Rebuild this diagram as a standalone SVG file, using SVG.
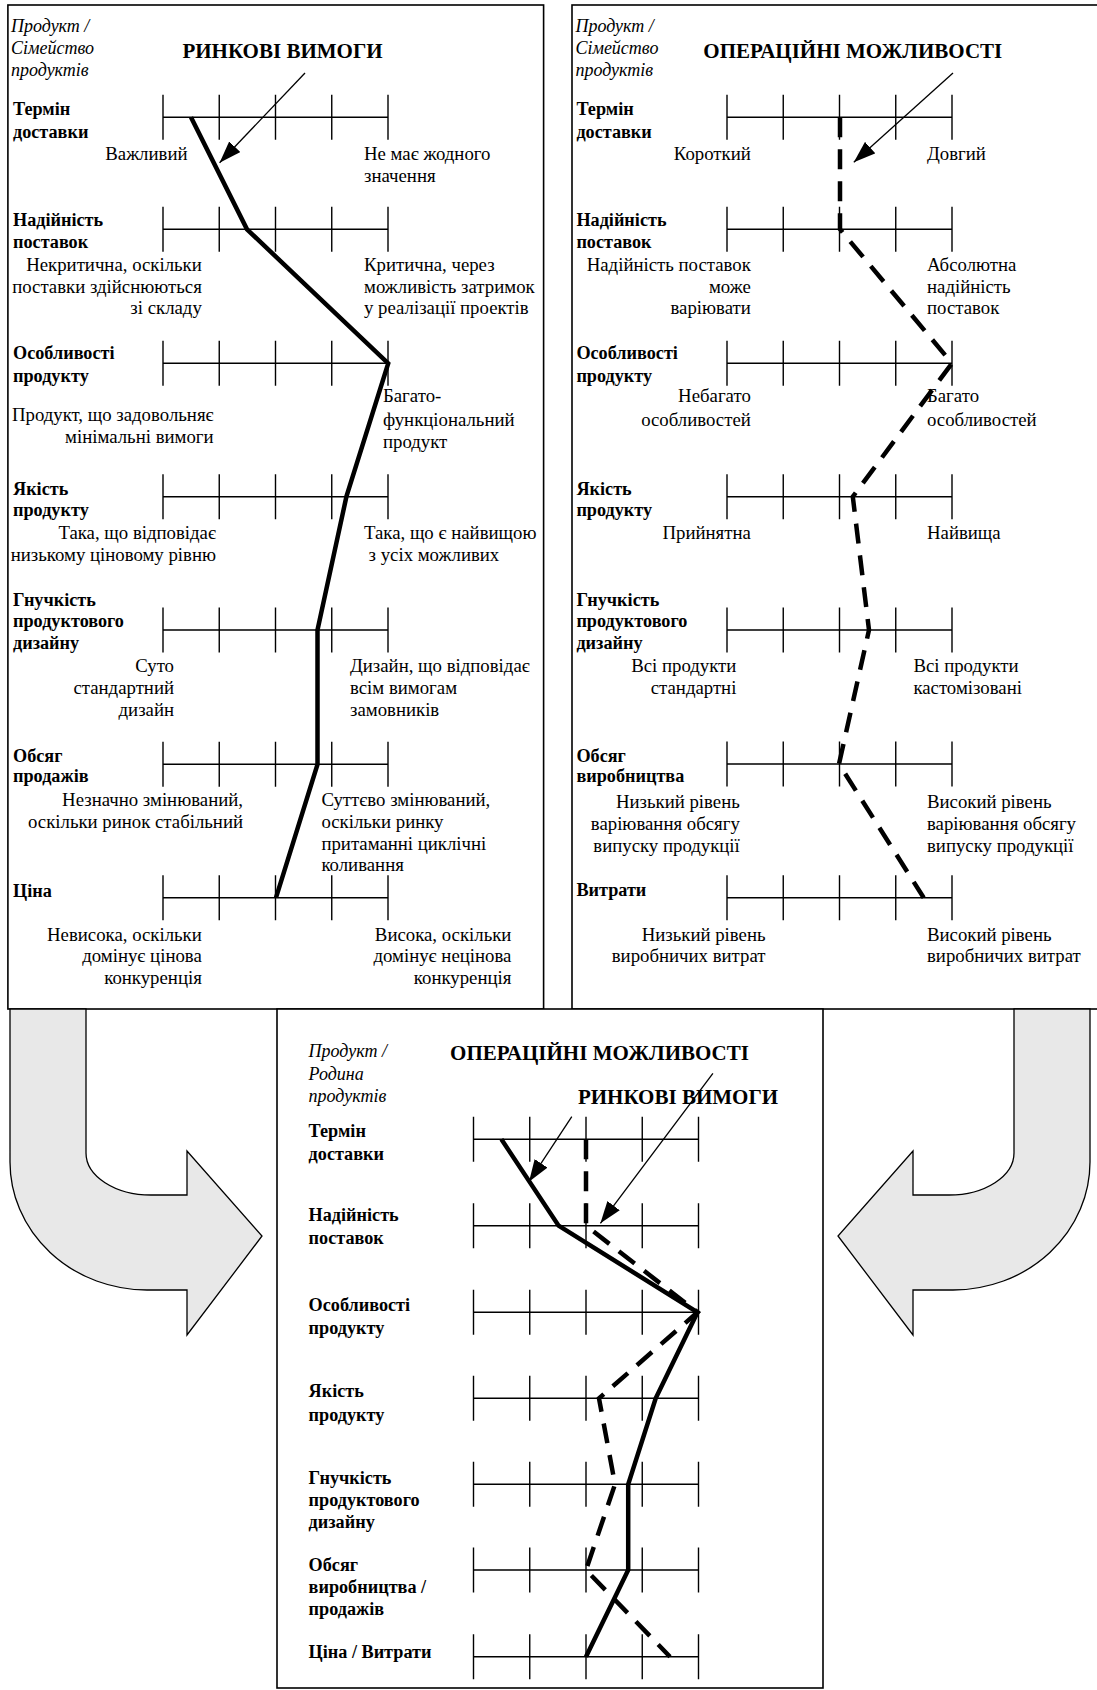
<svg xmlns="http://www.w3.org/2000/svg" xmlns:xlink="http://www.w3.org/1999/xlink" width="1097" height="1690" viewBox="0 0 1097 1690">
<style>
.t{font-family:"Liberation Serif","Times New Roman",serif;font-size:18.8px;fill:#000}
.b{font-weight:bold;font-size:18.2px}
.i{font-style:italic;font-size:18px}
.h{font-weight:bold;font-size:21px;text-anchor:middle}
.e{text-anchor:end}
.ax{stroke:#000;stroke-width:1.4;fill:none}
.sol{stroke:#000;stroke-width:4.5;fill:none;stroke-linejoin:miter}
.dsh{stroke:#000;stroke-width:4.5;fill:none;stroke-dasharray:20 12}
.thin{stroke:#000;stroke-width:1.3;fill:none}
.panel{fill:#fff;stroke:#000;stroke-width:1.6}
.big{fill:#e8e8e8;stroke:#000;stroke-width:1.3}
</style>
<defs>
<g id="axis"><path class="ax" d="M0,0H225M0,-22.5V22.5M56.25,-22.5V22.5M112.5,-22.5V22.5M168.75,-22.5V22.5M225,-22.5V22.5"/></g>
<marker id="ah" markerUnits="userSpaceOnUse" markerWidth="22" markerHeight="16" viewBox="0 0 20 14" refX="20" refY="7" orient="auto"><path d="M0,0L20,7L0,14Z" fill="#000"/></marker>
</defs>

<g id="panel-market">
<rect class="panel" x="7.9" y="5" width="535.7" height="1004"/>
<text class="t i" x="11" y="32">Продукт /</text>
<text class="t i" x="11" y="54">Сімейство</text>
<text class="t i" x="11" y="76">продуктів</text>
<text class="t h" x="282.5" y="58">РИНКОВІ ВИМОГИ</text>
<g id="m-row1"><use xlink:href="#axis" x="163" y="117.3"/>
<text class="t b" x="13" y="114.5">Термін</text><text class="t b" x="13" y="137.5">доставки</text>
<text class="t e" x="187.5" y="159.5">Важливий</text>
<text class="t" x="364" y="159.5">Не має жодного</text><text class="t" x="364" y="181.5">значення</text></g>
<g id="m-row2"><use xlink:href="#axis" x="163" y="229.3"/>
<text class="t b" x="13" y="225.5">Надійність</text><text class="t b" x="13" y="248">поставок</text>
<text class="t e" x="201.8" y="271">Некритична, оскільки</text><text class="t e" x="201.8" y="292.5">поставки здійснюються</text><text class="t e" x="201.8" y="314">зі складу</text>
<text class="t" x="364" y="271">Критична, через</text><text class="t" x="364" y="292.5">можливість затримок</text><text class="t" x="364" y="314">у реалізації проектів</text></g>
<g id="m-row3"><use xlink:href="#axis" x="163" y="363.3"/>
<text class="t b" x="13" y="359">Особливості</text><text class="t b" x="13" y="382">продукту</text>
<text class="t e" x="213.6" y="420.5">Продукт, що задовольняє</text><text class="t e" x="213.6" y="443">мінімальні вимоги</text>
<text class="t" x="383" y="402">Багато-</text><text class="t" x="383" y="426">функціональний</text><text class="t" x="383" y="448">продукт</text></g>
<g id="m-row4"><use xlink:href="#axis" x="163" y="496.7"/>
<text class="t b" x="13" y="495">Якість</text><text class="t b" x="13" y="516">продукту</text>
<text class="t e" x="216" y="539">Така, що відповідає</text><text class="t e" x="216" y="560.5">низькому ціновому рівню</text>
<text class="t" x="364" y="539">Така, що є найвищою</text><text class="t" x="368.6" y="560.5">з усіх можливих</text></g>
<g id="m-row5"><use xlink:href="#axis" x="163" y="630"/>
<text class="t b" x="13" y="605.5">Гнучкість</text><text class="t b" x="13" y="627">продуктового</text><text class="t b" x="13" y="649">дизайну</text>
<text class="t e" x="174" y="672">Суто</text><text class="t e" x="174" y="694">стандартний</text><text class="t e" x="174" y="715.5">дизайн</text>
<text class="t" x="350" y="672">Дизайн, що відповідає</text><text class="t" x="350" y="694">всім вимогам</text><text class="t" x="350" y="715.5">замовників</text></g>
<g id="m-row6"><use xlink:href="#axis" x="163" y="764.3"/>
<text class="t b" x="13" y="761.5">Обсяг</text><text class="t b" x="13" y="782">продажів</text>
<text class="t e" x="243" y="805.5">Незначно змінюваний,</text><text class="t e" x="243" y="827.5">оскільки ринок стабільний</text>
<text class="t" x="321.4" y="805.5">Суттєво змінюваний,</text><text class="t" x="321.4" y="827.5">оскільки ринку</text><text class="t" x="321.4" y="849.5">притаманні циклічні</text><text class="t" x="321.4" y="870.5">коливання</text></g>
<g id="m-row7"><use xlink:href="#axis" x="163" y="897.7"/>
<text class="t b" x="13" y="897">Ціна</text>
<text class="t e" x="201.8" y="940.5">Невисока, оскільки</text><text class="t e" x="201.8" y="962">домінує цінова</text><text class="t e" x="201.8" y="984">конкуренція</text>
<text class="t e" x="511.4" y="940.5">Висока, оскільки</text><text class="t e" x="511.4" y="962">домінує нецінова</text><text class="t e" x="511.4" y="984">конкуренція</text></g>
</g>

<g id="panel-ops">
<rect class="panel" x="572" y="5" width="540" height="1004"/>
<text class="t i" x="575.4" y="32">Продукт /</text>
<text class="t i" x="575.4" y="54">Сімейство</text>
<text class="t i" x="575.4" y="76">продуктів</text>
<text class="t h" x="852.8" y="58">ОПЕРАЦІЙНІ МОЖЛИВОСТІ</text>
<g id="o-row1"><use xlink:href="#axis" x="727" y="117.3"/>
<text class="t b" x="576.4" y="114.5">Термін</text><text class="t b" x="576.4" y="137.5">доставки</text>
<text class="t e" x="750.8" y="159.5">Короткий</text><text class="t" x="927" y="159.5">Довгий</text></g>
<g id="o-row2"><use xlink:href="#axis" x="727" y="229.3"/>
<text class="t b" x="576.4" y="225.5">Надійність</text><text class="t b" x="576.4" y="248">поставок</text>
<text class="t e" x="750.8" y="271">Надійність поставок</text><text class="t e" x="750.8" y="292.5">може</text><text class="t e" x="750.8" y="314">варіювати</text>
<text class="t" x="927" y="271">Абсолютна</text><text class="t" x="927" y="292.5">надійність</text><text class="t" x="927" y="314">поставок</text></g>
<g id="o-row3"><use xlink:href="#axis" x="727" y="363.3"/>
<text class="t b" x="576.4" y="359">Особливості</text><text class="t b" x="576.4" y="382">продукту</text>
<text class="t e" x="750.8" y="402">Небагато</text><text class="t e" x="750.8" y="426">особливостей</text>
<text class="t" x="927" y="402">Багато</text><text class="t" x="927" y="426">особливостей</text></g>
<g id="o-row4"><use xlink:href="#axis" x="727" y="496.7"/>
<text class="t b" x="576.4" y="495">Якість</text><text class="t b" x="576.4" y="516">продукту</text>
<text class="t e" x="750.8" y="539">Прийнятна</text><text class="t" x="927" y="539">Найвища</text></g>
<g id="o-row5"><use xlink:href="#axis" x="727" y="630"/>
<text class="t b" x="576.4" y="605.5">Гнучкість</text><text class="t b" x="576.4" y="627">продуктового</text><text class="t b" x="576.4" y="649">дизайну</text>
<text class="t e" x="736.4" y="672">Всі продукти</text><text class="t e" x="736.4" y="694">стандартні</text>
<text class="t" x="913.4" y="672">Всі продукти</text><text class="t" x="913.4" y="694">кастомізовані</text></g>
<g id="o-row6"><use xlink:href="#axis" x="727" y="764"/>
<text class="t b" x="576.4" y="761.5">Обсяг</text><text class="t b" x="576.4" y="782">виробництва</text>
<text class="t e" x="739.8" y="807.5">Низький рівень</text><text class="t e" x="739.8" y="829.5">варіювання обсягу</text><text class="t e" x="739.8" y="851.5">випуску продукції</text>
<text class="t" x="927" y="807.5">Високий рівень</text><text class="t" x="927" y="829.5">варіювання обсягу</text><text class="t" x="927" y="851.5">випуску продукції</text></g>
<g id="o-row7"><use xlink:href="#axis" x="727" y="897.7"/>
<text class="t b" x="576.4" y="896">Витрати</text>
<text class="t e" x="765.5" y="940.5">Низький рівень</text><text class="t e" x="765.5" y="962">виробничих витрат</text>
<text class="t" x="927" y="940.5">Високий рівень</text><text class="t" x="927" y="962">виробничих витрат</text></g>
</g>

<g id="panel-combined">
<rect class="panel" x="277" y="1009" width="546" height="679"/>
<text class="t i" x="308.6" y="1057">Продукт /</text>
<text class="t i" x="308.6" y="1079.5">Родина</text>
<text class="t i" x="308.6" y="1101.5">продуктів</text>
<text class="t h" x="599.5" y="1060">ОПЕРАЦІЙНІ МОЖЛИВОСТІ</text>
<text class="t h" x="678" y="1103.5">РИНКОВІ ВИМОГИ</text>
<g id="c-row1"><use xlink:href="#axis" x="473.5" y="1139.3"/><text class="t b" x="308.6" y="1137">Термін</text><text class="t b" x="308.6" y="1159.5">доставки</text></g>
<g id="c-row2"><use xlink:href="#axis" x="473.5" y="1225.7"/><text class="t b" x="308.6" y="1220.5">Надійність</text><text class="t b" x="308.6" y="1244">поставок</text></g>
<g id="c-row3"><use xlink:href="#axis" x="473.5" y="1312.3"/><text class="t b" x="308.6" y="1310.5">Особливості</text><text class="t b" x="308.6" y="1334">продукту</text></g>
<g id="c-row4"><use xlink:href="#axis" x="473.5" y="1398.3"/><text class="t b" x="308.6" y="1397">Якість</text><text class="t b" x="308.6" y="1420.5">продукту</text></g>
<g id="c-row5"><use xlink:href="#axis" x="473.5" y="1484.3"/><text class="t b" x="308.6" y="1484">Гнучкість</text><text class="t b" x="308.6" y="1506">продуктового</text><text class="t b" x="308.6" y="1528">дизайну</text></g>
<g id="c-row6"><use xlink:href="#axis" x="473.5" y="1570"/><text class="t b" x="308.6" y="1570.5">Обсяг</text><text class="t b" x="308.6" y="1593">виробництва /</text><text class="t b" x="308.6" y="1615">продажів</text></g>
<g id="c-row7"><use xlink:href="#axis" x="473.5" y="1656.7"/><text class="t b" x="308.6" y="1658">Ціна / Витрати</text></g>
</g>

<g id="flow-arrows">
<path id="arrow-left" class="big" d="M10,1009H86V1153A65 42 0 0 0 151,1195H187V1151L262,1236L187,1335V1290H147A137 128 0 0 1 10,1162Z"/>
<path id="arrow-right" class="big" d="M1090,1009H1014V1153A65 42 0 0 1 949,1195H913V1151L838,1236L913,1335V1290H953A137 128 0 0 0 1090,1162Z"/>
</g>

<g id="connectors">
<polyline class="sol" points="191,117.3 247,229.3 388.2,363.3 346.4,496.7 317.5,630 317.5,764.3 276,897.7"/>
<polyline class="dsh" points="840,117.3 840,229.3 952,363.3 852.8,496.7 869,630 839,764 923.7,897.7"/>
<polyline class="sol" points="501.4,1139.3 558.6,1225.7 697.5,1312.3 655.7,1398.3 628.2,1484.3 628.2,1570 586,1656.7"/>
<polyline class="dsh" points="586,1139.3 586,1225.7 697.5,1312.3 599,1398.3 615,1484.3 586,1570 670,1656.7"/>
<line class="thin" x1="305" y1="73" x2="219.6" y2="162.7" marker-end="url(#ah)"/>
<line class="thin" x1="953" y1="73" x2="853.8" y2="162.3" marker-end="url(#ah)"/>
<line class="thin" x1="571.8" y1="1116.7" x2="529" y2="1181.7" marker-end="url(#ah)"/>
<line class="thin" x1="712.9" y1="1073.3" x2="600.4" y2="1223.3" marker-end="url(#ah)"/>
</g>
</svg>
